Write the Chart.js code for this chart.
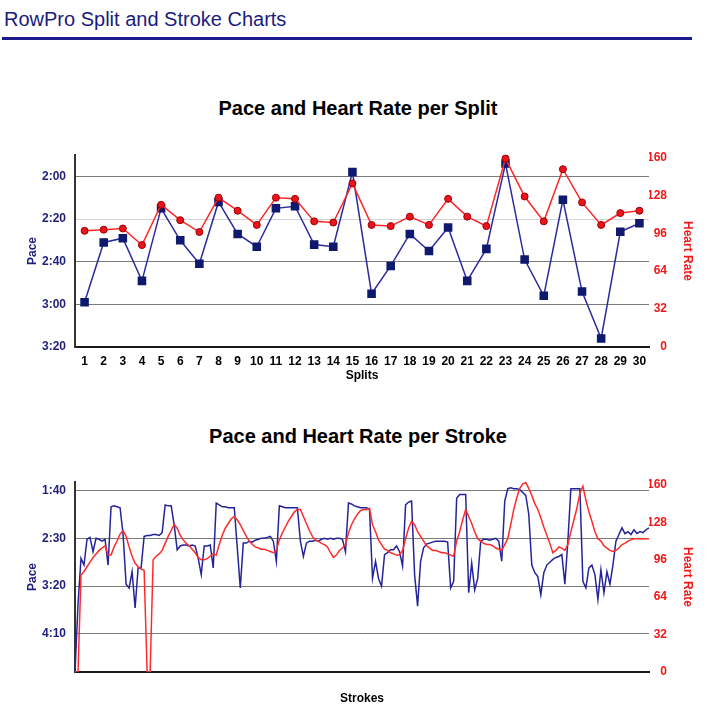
<!DOCTYPE html>
<html>
<head>
<meta charset="utf-8">
<title>RowPro Split and Stroke Charts</title>
<script src="https://cdn.jsdelivr.net/npm/chart.js@4.4.0/dist/chart.umd.min.js"></script>
<style>
  body { margin: 0; background: #fff; font-family: "Liberation Sans", Arial, Helvetica, sans-serif; }
  #page { position: relative; width: 708px; height: 723px; overflow: hidden; }
  h1 { position: absolute; left: 4px; top: 9px; margin: 0; font-size: 20px; line-height: 1; font-weight: normal; color: #1b1b7e; }
  .rule { position: absolute; left: 2px; top: 37px; width: 690px; height: 3px; background: #1a1a8c; }
  .ctitle { position: absolute; left: 0; width: 716px; text-align: center; font-size: 20px; line-height: 1; font-weight: bold; color: #000; }
  .box { position: absolute; left: 0; width: 708px; }
</style>
</head>
<body>
<div id="page">
  <h1>RowPro Split and Stroke Charts</h1>
  <div class="rule"></div>
  <div class="ctitle" style="top:98px">Pace and Heart Rate per Split</div>
  <div class="box" style="top:135px"><canvas id="splitChart" width="708" height="265"></canvas></div>
  <div class="ctitle" style="top:426px">Pace and Heart Rate per Stroke</div>
  <div class="box" style="top:462px"><canvas id="strokeChart" width="708" height="255"></canvas></div>
</div>
<script>
// split chart (pace in seconds per 500m, heart rate in bpm)
const splitLabels = [1, 2, 3, 4, 5, 6, 7, 8, 9, 10, 11, 12, 13, 14, 15, 16, 17, 18, 19, 20, 21, 22, 23, 24, 25, 26, 27, 28, 29, 30];
const splitPace = [179, 151, 149, 169, 135, 150, 161, 132, 147, 153, 135, 134, 152, 153, 118, 175, 162, 147, 155, 144, 169, 154, 114, 159, 176, 131, 174, 196, 146, 142];
const splitHR = [98, 99, 100, 86, 120, 107, 97, 126, 115, 103, 126, 125, 106, 105, 138, 103, 102, 110, 103, 125, 110, 102, 159, 127, 106, 150, 122, 103, 113, 115];
const splitPaceTicks = [120, 140, 160, 180, 200];

// stroke chart
const strokePace = [
  290, 219, 171, 178, 151, 149, 164, 150, 151, 153, 151, 178,
  117, 116, 117, 118, 146, 198, 202, 185, 223, 181, 181, 148,
  147, 147, 146, 146, 147, 144, 115, 116, 116, 136, 162, 158,
  157, 157, 158, 157, 158, 171, 188, 158, 158, 157, 181, 113,
  115, 117, 117, 118, 118, 118, 160, 202, 155, 155, 153, 154,
  152, 151, 150, 150, 149, 148, 153, 174, 116, 117, 118, 118,
  118, 118, 118, 153, 169, 155, 153, 153, 152, 153, 151, 150,
  151, 150, 151, 150, 150, 151, 164, 113, 114, 116, 117, 118,
  118, 118, 120, 192, 174, 192, 200, 167, 165, 162, 162, 158,
  164, 179, 115, 112, 111, 188, 221, 174, 160, 156, 155, 154,
  153, 153, 153, 153, 154, 202, 195, 108, 104, 104, 104, 207,
  176, 204, 192, 153, 151, 151, 152, 151, 150, 153, 174, 111,
  98, 97, 98, 98, 99, 102, 105, 125, 178, 186, 190, 209,
  186, 178, 175, 172, 170, 169, 167, 198, 153, 98, 98, 98,
  98, 195, 202, 181, 178, 188, 214, 183, 207, 185, 198, 178,
  153, 146, 139, 145, 143, 146, 141, 145, 143, 144, 141, 139
];
const strokeHR = [
  0, 0, 83, 86, 90, 94, 98, 101, 104, 106, 108, 100,
  100, 107, 112, 118, 121, 116, 107, 99, 93, 90, 88, 87,
  0, 0, 96, 99, 101, 104, 110, 116, 121, 126, 123, 117,
  113, 110, 108, 105, 102, 98, 96, 96, 97, 99, 101, 100,
  109, 117, 123, 127, 131, 133, 130, 126, 121, 116, 112, 109,
  107, 106, 105, 105, 104, 103, 102, 104, 113, 119, 124, 129,
  133, 137, 139, 139, 133, 127, 121, 116, 113, 112, 110, 109,
  107, 102, 98, 100, 104, 106, 109, 119, 126, 131, 135, 138,
  139, 139, 140, 126, 120, 113, 109, 105, 104, 102, 101, 100,
  100, 104, 114, 123, 129, 126, 120, 116, 112, 108, 106, 104,
  104, 103, 102, 102, 101, 100, 99, 112, 120, 130, 139, 133,
  127, 120, 114, 112, 110, 109, 109, 108, 106, 105, 104, 109,
  114, 126, 139, 149, 157, 161, 162, 157, 151, 144, 139, 132,
  124, 117, 110, 102, 104, 107, 106, 104, 109, 120, 130, 140,
  153, 159, 147, 137, 129, 120, 114, 112, 108, 106, 104, 103,
  104, 106, 109, 110, 112, 113, 114, 114, 114, 114, 114, 114
];
const strokeLabels = strokePace.map((_, i) => i + 1);
const strokePaceTicks = [100, 150, 200, 250];
const hrTicks = [0, 32, 64, 96, 128, 160];

const NAVY = "#1f1f7c";
const RED = "#f01818";

const fmtPace = (v) => Math.floor(v / 60) + ":" + String(v % 60).padStart(2, "0");
const boldFont = { family: "'Liberation Sans', Arial, sans-serif", size: 12, weight: "bold" };

function buildScales(cfg) {
  return {
    x: {
      type: "category",
      offset: cfg.offset,
      grid: { display: false, drawTicks: false },
      border: { display: true, color: "#1a1a1a", width: 2 },
      ticks: { display: cfg.showX, color: "#000", font: boldFont, padding: 7, maxRotation: 0, autoSkip: false },
      title: { display: true, text: cfg.xTitle, color: "#000", font: boldFont, padding: { top: 0, bottom: cfg.xTitlePad } },
      afterFit: (s) => { s.height = 40; }
    },
    yPace: {
      position: "left",
      reverse: true,
      min: cfg.paceMin,
      max: cfg.paceMax,
      afterBuildTicks: (s) => { s.ticks = cfg.paceTicks.map((v) => ({ value: v })); },
      grid: {
        drawTicks: false,
        lineWidth: 1,
        color: (ctx) => (ctx.tick && ctx.tick.value === cfg.lightTick ? "#d4d4d4" : "#7a7a7a")
      },
      border: { display: true, color: "#333", width: 2 },
      ticks: { color: NAVY, font: boldFont, padding: 9, callback: fmtPace },
      title: { display: true, text: "Pace", color: NAVY, font: boldFont, padding: { top: 25, bottom: 0 } },
      afterFit: (s) => { s.width = 75; }
    },
    yHR: {
      position: "right",
      min: 0,
      max: cfg.hrMax,
      afterBuildTicks: (s) => { s.ticks = hrTicks.map((v) => ({ value: v })); },
      grid: { display: false, drawTicks: false },
      border: { display: false },
      ticks: { color: RED, font: boldFont, padding: 0, crossAlign: "far" },
      title: { display: true, text: "Heart Rate", color: RED, font: boldFont, padding: { top: -28, bottom: 0 } },
      afterFit: (s) => { s.width = 18; }
    }
  };
}

document.addEventListener("DOMContentLoaded", () => {
  // Split chart
  new Chart(document.getElementById("splitChart").getContext("2d"), {
    type: "line",
    data: {
      labels: splitLabels,
      datasets: [
        {
          label: "Heart Rate",
          data: splitHR,
          yAxisID: "yHR",
          order: 0,
          borderColor: "#ff2626",
          borderWidth: 1.5,
          pointStyle: "circle",
          pointRadius: 3.5,
          pointBackgroundColor: "#e8141e",
          pointBorderColor: "#a00000",
          pointBorderWidth: 1,
          clip: 8
        },
        {
          label: "Pace",
          data: splitPace,
          yAxisID: "yPace",
          order: 1,
          borderColor: "#2b2b9c",
          borderWidth: 1.5,
          pointStyle: "rect",
          pointRadius: 5,
          pointBackgroundColor: "#0f1a6e",
          pointBorderColor: "#0f1a6e",
          clip: 8
        }
      ]
    },
    options: {
      responsive: false,
      animation: false,
      layout: { padding: { top: 20, left: 0, right: 41, bottom: 13 } },
      elements: { line: { tension: 0 } },
      plugins: { legend: { display: false }, tooltip: { enabled: false } },
      scales: buildScales({
        offset: true, showX: true, xTitle: "Splits", xTitlePad: 4,
        paceMin: 110, paceMax: 200, paceTicks: splitPaceTicks, lightTick: 140, hrMax: 162
      })
    }
  });

  // Stroke chart
  new Chart(document.getElementById("strokeChart").getContext("2d"), {
    type: "line",
    data: {
      labels: strokeLabels,
      datasets: [
        {
          label: "Heart Rate",
          data: strokeHR,
          yAxisID: "yHR",
          order: 0,
          borderColor: "#ff2a2a",
          borderWidth: 1.5,
          pointRadius: 0
        },
        {
          label: "Pace",
          data: strokePace,
          yAxisID: "yPace",
          order: 1,
          borderColor: "#24249a",
          borderWidth: 1.5,
          pointRadius: 0
        }
      ]
    },
    options: {
      responsive: false,
      animation: false,
      layout: { padding: { top: 20, left: 0, right: 41, bottom: 5 } },
      elements: { line: { tension: 0 } },
      plugins: { legend: { display: false }, tooltip: { enabled: false } },
      scales: buildScales({
        offset: false, showX: false, xTitle: "Strokes", xTitlePad: 6,
        paceMin: 91, paceMax: 290, paceTicks: strokePaceTicks, lightTick: null, hrMax: 162.5
      })
    }
  });
});
</script>
</body>
</html>
